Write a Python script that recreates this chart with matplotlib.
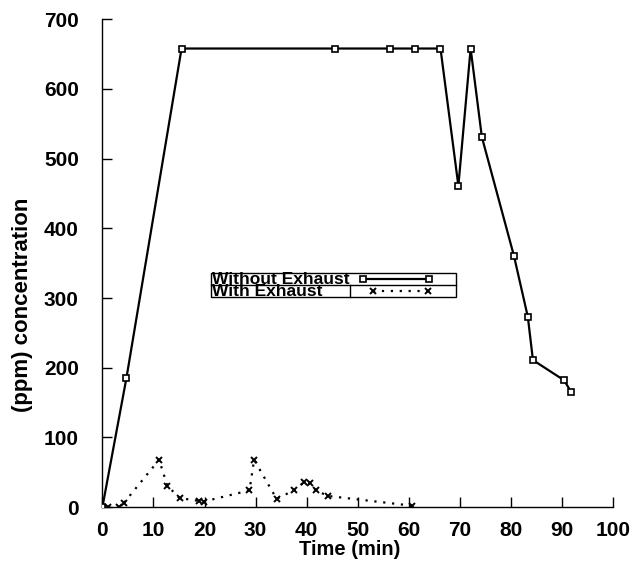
import matplotlib.pyplot as plt
from matplotlib.lines import Line2D
from matplotlib.patches import Rectangle

plt.rcParams['font.family'] = ['Liberation Sans', 'DejaVu Sans']
plt.rcParams['font.weight'] = 'bold'
plt.rcParams['axes.labelweight'] = 'bold'

# Without Exhaust (squares, solid)
t_without = [0.0, 4.7, 15.5, 45.5, 56.3, 61.2, 66.2, 69.7, 72.1, 74.3, 80.6, 83.3, 84.3, 90.4, 91.8]
c_without = [0, 185, 658, 658, 658, 658, 658, 461, 658, 531, 360, 273, 211, 182, 165]

# With Exhaust (crosses, dotted)
t_with = [1.1, 3.3, 4.2, 11.1, 12.7, 15.1, 18.9, 19.8, 28.8, 29.7, 34.1, 37.5, 39.5, 40.6, 41.8, 44.2, 60.7]
c_with = [0, 0, 6, 68, 31, 13, 9, 8, 24, 68, 12, 24, 36, 35, 24, 16, 2]

x_ticks = list(range(0, 101, 10))
y_ticks = list(range(0, 701, 100))

fig = plt.figure(figsize=(6.4, 5.66), dpi=100)
ax = fig.add_axes([0.160, 0.104, 0.798, 0.862])

ax.plot(t_without, c_without, '-', color='black', lw=1.6, marker='s', ms=5,
        mfc='white', mec='black', mew=1.2, zorder=3)
ax.plot(t_with, c_with, color='black', lw=1.6, ls=(0, (1, 3)), marker='x',
        ms=5, mew=1.4, zorder=3)

ax.set_xlim(0, 100)
ax.set_ylim(0, 700)
ax.set_xticks(x_ticks)
ax.set_yticks(y_ticks)
ax.spines['top'].set_visible(False)
ax.spines['right'].set_visible(False)
for s in ('left', 'bottom'):
    ax.spines[s].set_linewidth(1.0)
ax.tick_params(axis='both', direction='in', length=7, width=1, labelsize=15)
ax.tick_params(axis='x', pad=10)
ax.tick_params(axis='y', pad=17)

ax.set_xlabel('Time (min)', fontsize=14.5)
ax.xaxis.set_label_coords(0.484, -0.068)
ax.set_ylabel('(ppm) concentration', fontsize=16)
ax.yaxis.set_label_coords(-0.136, 0.414)

# hand-drawn boxed legend
tr = ax.transAxes
x0, x1 = 0.213, 0.693
y_bot, y_mid, y_top = 0.431, 0.456, 0.479
ax.add_patch(Rectangle((x0, y_bot), x1 - x0, y_top - y_bot, transform=tr,
                       fill=False, lw=1.0, ec='black', clip_on=False, zorder=5))
ax.add_line(Line2D([x0, x1], [y_mid, y_mid], transform=tr, color='black', lw=1.0, zorder=5))
ax.add_line(Line2D([0.485, 0.485], [y_bot, y_mid], transform=tr, color='black', lw=1.0, zorder=5))
ax.text(x0 + 0.002, y_mid + 0.001, 'Without Exhaust', transform=tr,
        fontsize=12.5, va='baseline', ha='left', zorder=6)
ax.text(x0 + 0.002, y_bot + 0.002, 'With Exhaust', transform=tr,
        fontsize=12.5, va='baseline', ha='left', zorder=6)
ax.add_line(Line2D([0.510, 0.639], [0.468, 0.468], transform=tr, color='black', lw=1.6,
                   marker='s', ms=5, mfc='white', mec='black', mew=1.2, zorder=6))
ax.add_line(Line2D([0.529, 0.637], [0.443, 0.443], transform=tr, color='black', lw=1.6,
                   ls=(0, (1, 3)), marker='x', ms=5, mew=1.4, zorder=6))

fig.savefig('out.png', dpi=100)
